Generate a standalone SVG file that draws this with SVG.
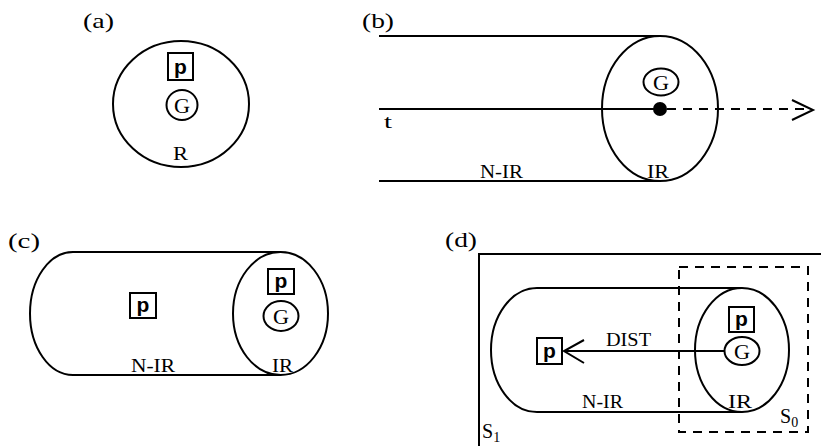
<svg xmlns="http://www.w3.org/2000/svg" width="821" height="446" viewBox="0 0 821 446">
<style>
.s{fill:none;stroke:#000;stroke-width:2}
.d{fill:none;stroke:#000;stroke-width:2;stroke-dasharray:9,7}
.t{font-family:"Liberation Serif",serif;font-size:18px;fill:#000}
.lb{font-family:"Liberation Serif",serif;font-size:22px;fill:#000}
.g{font-family:"Liberation Serif",serif;font-size:22px;fill:#000;text-anchor:middle}
.p{font-family:"Liberation Sans",sans-serif;font-weight:bold;font-size:21px;fill:#000;text-anchor:middle}
.pb{fill:#fff;stroke:#000;stroke-width:2}
</style>
<rect width="821" height="446" fill="#fff"/>
<g id="panel-a">
<text class="lb" x="83" y="28" textLength="31" lengthAdjust="spacingAndGlyphs">(a)</text>
<ellipse id="R" class="s" cx="181" cy="104" rx="68" ry="63"/>
<g id="a-p"><rect class="pb" x="168" y="53" width="25" height="27"/><text class="p" x="180.5" y="74">p</text></g>
<g id="a-G"><ellipse class="s" cx="182" cy="105" rx="15.5" ry="15"/><text class="g" x="182" y="113" textLength="16" lengthAdjust="spacingAndGlyphs">G</text></g>
<text class="t" x="173" y="160" textLength="15" lengthAdjust="spacingAndGlyphs">R</text>
</g>
<g id="panel-b">
<text class="lb" x="362" y="28" textLength="32" lengthAdjust="spacingAndGlyphs">(b)</text>
<g id="b-cyl">
<line class="s" x1="379" y1="36" x2="660" y2="36"/>
<line class="s" x1="379" y1="181" x2="660" y2="181"/>
<ellipse class="s" cx="660" cy="108.5" rx="58" ry="72.5"/>
</g>
<g id="b-G"><ellipse class="s" cx="661" cy="82" rx="17.5" ry="13.5"/><text class="g" x="661" y="90" textLength="16" lengthAdjust="spacingAndGlyphs">G</text></g>
<text class="t" x="384" y="128" textLength="8" lengthAdjust="spacingAndGlyphs">t</text>
<text class="t" x="480" y="178" textLength="43" lengthAdjust="spacingAndGlyphs">N-IR</text>
<text class="t" x="647" y="178" textLength="22" lengthAdjust="spacingAndGlyphs">IR</text>
</g>
<g id="panel-c">
<text class="lb" x="8" y="248" textLength="32" lengthAdjust="spacingAndGlyphs">(c)</text>
<g id="c-cyl">
<path class="s" d="M280 252 L73 252 A43 61.5 0 0 0 73 375 L280 375"/>
<ellipse class="s" cx="280.5" cy="313.5" rx="47.5" ry="61.5"/>
</g>
<g id="c-p1"><rect class="pb" x="130" y="293" width="26" height="25"/><text class="p" x="143" y="312">p</text></g>
<g id="c-p2"><rect class="pb" x="268" y="269" width="26" height="25"/><text class="p" x="281" y="288">p</text></g>
<g id="c-G"><ellipse class="s" cx="281" cy="316" rx="17.5" ry="15"/><text class="g" x="281" y="324" textLength="16" lengthAdjust="spacingAndGlyphs">G</text></g>
<text class="t" x="131" y="372" textLength="44" lengthAdjust="spacingAndGlyphs">N-IR</text>
<text class="t" x="272" y="372" textLength="21" lengthAdjust="spacingAndGlyphs">IR</text>
</g>
<g id="panel-d">
<text class="lb" x="445" y="247" textLength="32" lengthAdjust="spacingAndGlyphs">(d)</text>
<g id="S1"><path class="s" d="M479 446 L479 254 L822 254"/></g>
<g id="S0"><rect class="d" x="679" y="267" width="129" height="165"/></g>
<g id="d-cyl">
<path class="s" d="M742 288 L537 288 A46 62 0 0 0 537 412 L742 412"/>
<ellipse class="s" cx="742" cy="350" rx="47" ry="62"/>
</g>
<g id="d-p1"><rect class="pb" x="537" y="338" width="25" height="26"/><text class="p" x="549.5" y="358">p</text></g>
<g id="d-p2"><rect class="pb" x="729" y="307" width="25" height="25"/><text class="p" x="741.5" y="326">p</text></g>
<g id="d-G"><ellipse class="s" cx="742" cy="351" rx="17.5" ry="14"/><text class="g" x="742" y="359" textLength="16" lengthAdjust="spacingAndGlyphs">G</text></g>
<text class="t" x="606" y="346" textLength="45" lengthAdjust="spacingAndGlyphs">DIST</text>
<text class="t" x="582" y="408" textLength="41" lengthAdjust="spacingAndGlyphs">N-IR</text>
<text class="t" x="728" y="408" textLength="24" lengthAdjust="spacingAndGlyphs">IR</text>
<text class="t" x="780" y="423" style="font-size:20px">S<tspan font-size="14" dy="4">0</tspan></text>
<text class="t" x="482" y="438" style="font-size:20px">S<tspan font-size="14" dy="4">1</tspan></text>
</g>
<g id="connectors">
<line class="s" x1="379" y1="109" x2="660" y2="109"/>
<circle cx="660" cy="109" r="7" fill="#000"/>
<line class="d" x1="667" y1="109" x2="810" y2="109"/>
<polyline class="s" points="792,100 813,110 792,120"/>
<line class="s" x1="724.5" y1="351" x2="564" y2="351"/>
<polyline class="s" points="584,340 564,351 584,363"/>
</g>
</svg>
